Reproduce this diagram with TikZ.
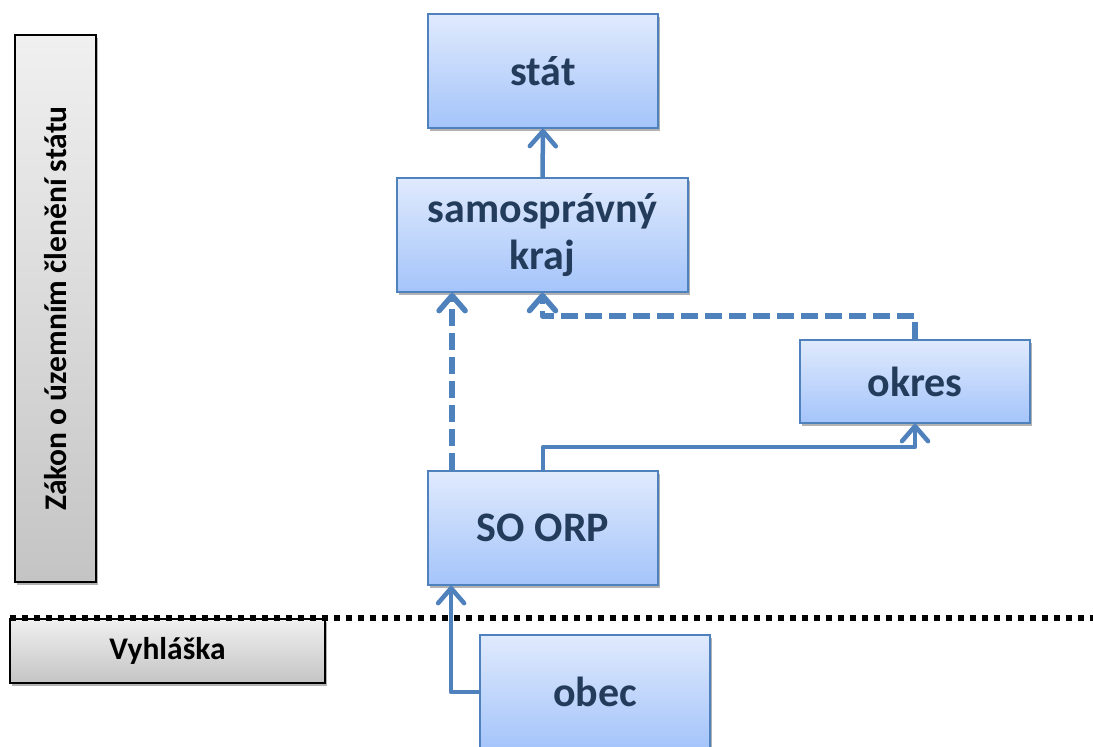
\documentclass[tikz,border=0pt]{standalone}
\usepackage{fontspec}
\setmainfont{Carlito}
\usetikzlibrary{arrows.meta,shadows,calc}
\definecolor{boxline}{RGB}{79,129,189}
\definecolor{boxtop}{RGB}{224,234,253}
\definecolor{boxbot}{RGB}{164,196,250}
\definecolor{boxtext}{RGB}{36,60,92}
\definecolor{graytop}{RGB}{240,240,240}
\definecolor{graybot}{RGB}{196,196,196}
\tikzset{
  bluebox/.style={draw=boxline, line width=1.8pt, top color=boxtop, bottom color=boxbot,
    inner sep=0pt, text=boxtext, align=center,
    font=\fontsize{42}{47}\selectfont\bfseries,
    drop shadow={shadow xshift=2pt, shadow yshift=-3pt, opacity=0.3, fill=black}},
  graybox/.style={draw=black, line width=2pt, top color=graytop, bottom color=graybot,
    inner sep=0pt, drop shadow={shadow xshift=2pt, shadow yshift=-3pt, opacity=0.3, fill=black}},
  graytext/.style={text=black, font=\fontsize{31.5}{36}\selectfont\bfseries, inner sep=0pt},
  conn/.style={draw=boxline, line width=4.5pt, line join=round,
    -{Straight Barb[length=15pt,width=26pt,line cap=round,line join=round]}},
  dashconn/.style={conn, line width=5.5pt, dash pattern=on 17pt off 7pt},
  dotline/.style={draw=black, line width=6pt, dash pattern=on 6pt off 6pt}
}
\begin{document}
\begin{tikzpicture}[x=1pt,y=-1pt]
\clip (0,0) rectangle (1093,747);
\fill[white] (0,0) rectangle (1093,747);
% gray boxes
\node[graybox, minimum width=81pt, minimum height=547pt] (zakon) at (55.5,308.5) {};
\node[graytext, rotate=90] (zakontext) at (zakon.center) {Zákon o územním členění státu};
\node[graybox, minimum width=315pt, minimum height=64pt, graytext] (vyhl) at (167.5,651) {Vyhláška};
% blue boxes
\node[bluebox, minimum width=230pt, minimum height=114pt] (stat) at (543,71) {stát};
\node[bluebox, minimum width=291pt, minimum height=114pt] (kraj) at (542.5,235) {samosprávný\\kraj};
\node[bluebox, minimum width=230pt, minimum height=83pt] (okres) at (915,381.5) {okres};
\node[bluebox, minimum width=230pt, minimum height=114pt] (soorp) at (543,528) {SO ORP};
\node[bluebox, minimum width=230pt, minimum height=114pt] (obec) at (595,692) {obec};
% helper coordinates
\coordinate (dk) at (0,316);
\coordinate (sk) at (0,447);
% connectors
\draw[conn] (kraj.north) -- (stat.south);
\draw[dashconn] ([xshift=25pt]soorp.north west) -- ([xshift=56pt]kraj.south west);
\draw[dashconn] (okres.north) -- (okres.north |- dk) -| (kraj.south);
\draw[conn] (soorp.north) -- (soorp.north |- sk) -| (okres.south);
\draw[conn] (obec.west) -| ([xshift=24pt]soorp.south west);
% dotted separator
\coordinate (dl) at (10,618);
\coordinate (dr) at (1093,618);
\draw[dotline] (dl) -- (dr);
\end{tikzpicture}
\end{document}
